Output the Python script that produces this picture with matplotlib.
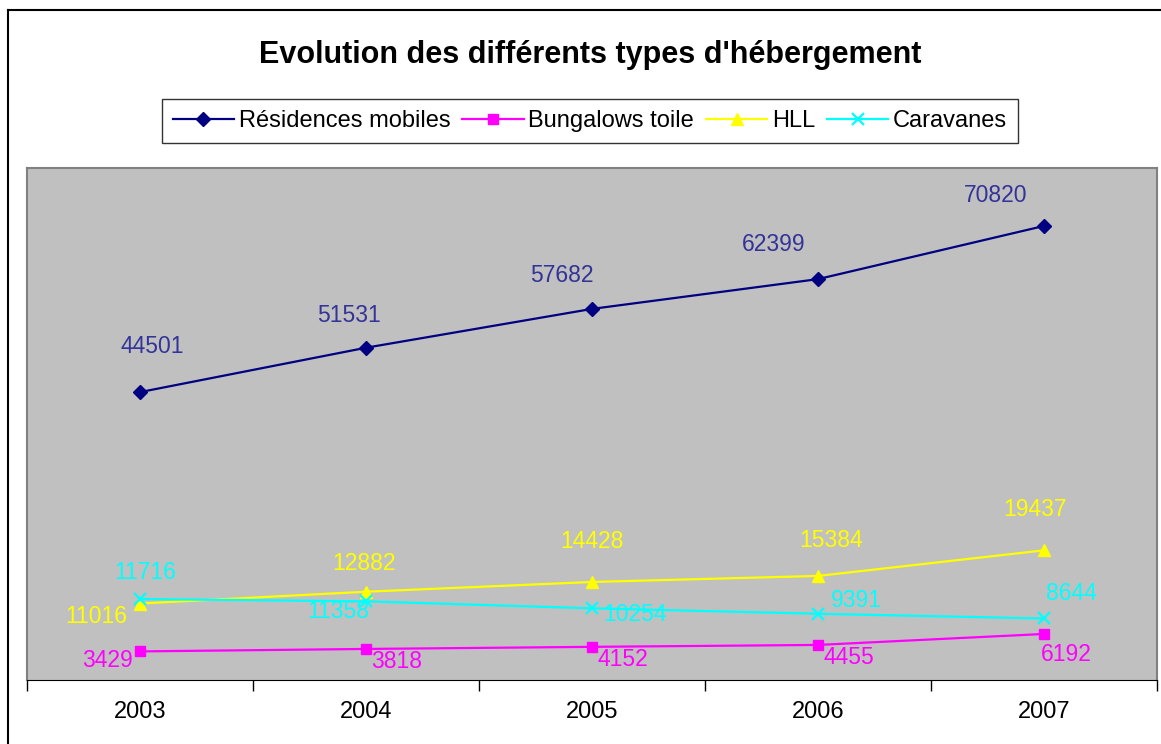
import numpy as np
import matplotlib.pyplot as plt
from matplotlib.lines import Line2D

years = ['2003', '2004', '2005', '2006', '2007']
residences = [44501, 51531, 57682, 62399, 70820]
bungalows = [3429, 3818, 4152, 4455, 6192]
hll = [11016, 12882, 14428, 15384, 19437]
caravanes = [11716, 11358, 10254, 9391, 8644]

# label offsets in pixels (dx, dy), dy positive = up
off_res = [(12, 46), (-17, 32), (-30, 33), (-44, 35), (-48, 30)]
off_bun = [(-33, -9), (31, -13), (31, -13), (31, -13), (22, -21)]
off_hll = [(-44, -13), (-2, 28), (0, 40), (13, 35), (-9, 41)]
off_car = [(5, 27), (-28, -10), (43, -6), (38, 13), (27, 25)]

plt.rcParams['font.family'] = ['Liberation Sans', 'DejaVu Sans']

fig = plt.figure(figsize=(11.61, 7.44), dpi=100)
ax = fig.add_axes([27/1161, 1-680/744, 1130/1161, 512/744])
ax.set_facecolor('#C0C0C0')

x = np.arange(len(years))
series = [
    ('Résidences mobiles', residences, '#000080', 'D', 7, '#333399', off_res),
    ('Bungalows toile', bungalows, '#FF00FF', 's', 7, '#FF00FF', off_bun),
    ('HLL', hll, '#FFFF00', '^', 9, '#FFFF00', off_hll),
    ('Caravanes', caravanes, '#00FFFF', 'x', 9, '#00FFFF', off_car),
]
for name, vals, col, mk, ms, lcol, offs in series:
    ax.plot(x, vals, color=col, marker=mk, markersize=ms, lw=1.6,
            markeredgewidth=1.6 if mk == 'x' else 1, label=name)
    for xi, v, (dx, dy) in zip(x, vals, offs):
        ax.annotate(str(v), (xi, v), xytext=(dx, dy), textcoords='offset pixels',
                    ha='center', va='center', color=lcol, fontsize=16.5)

ax.set_xlim(-0.5, 4.5)
ax.set_ylim(-1100, 80000)
ax.set_yticks([])
ax.set_xticks(np.arange(-0.5, 5, 1))
ax.set_xticklabels([])
ax.set_xticks(x, minor=True)
ax.set_xticklabels(years, minor=True, fontsize=17)
ax.tick_params(axis='x', which='major', length=8, width=1, direction='out')
ax.tick_params(axis='x', which='minor', length=0, pad=15)
for side in ['top', 'left', 'right']:
    ax.spines[side].set_color('#808080')
    ax.spines[side].set_linewidth(1.5)
ax.spines['bottom'].set_color('black')

fig.text(590/1161, 1-55/744, "Evolution des différents types d'hébergement",
         ha='center', va='center', fontsize=22, fontweight='bold')

leg = fig.legend(loc='center', bbox_to_anchor=(590/1161, 1-121/744), ncol=4,
                 fontsize=17, frameon=True, fancybox=False, edgecolor='black',
                 handlelength=2.6, handletextpad=0.2, columnspacing=0.5,
                 borderpad=0.45)
leg.get_frame().set_linewidth(1)

fig.add_artist(Line2D([8/1161, 8/1161], [0, 1-10/744], color='black', lw=1.5))
fig.add_artist(Line2D([8/1161, 1], [1-10/744, 1-10/744], color='black', lw=1.5))

fig.savefig('out.png', dpi=100)
